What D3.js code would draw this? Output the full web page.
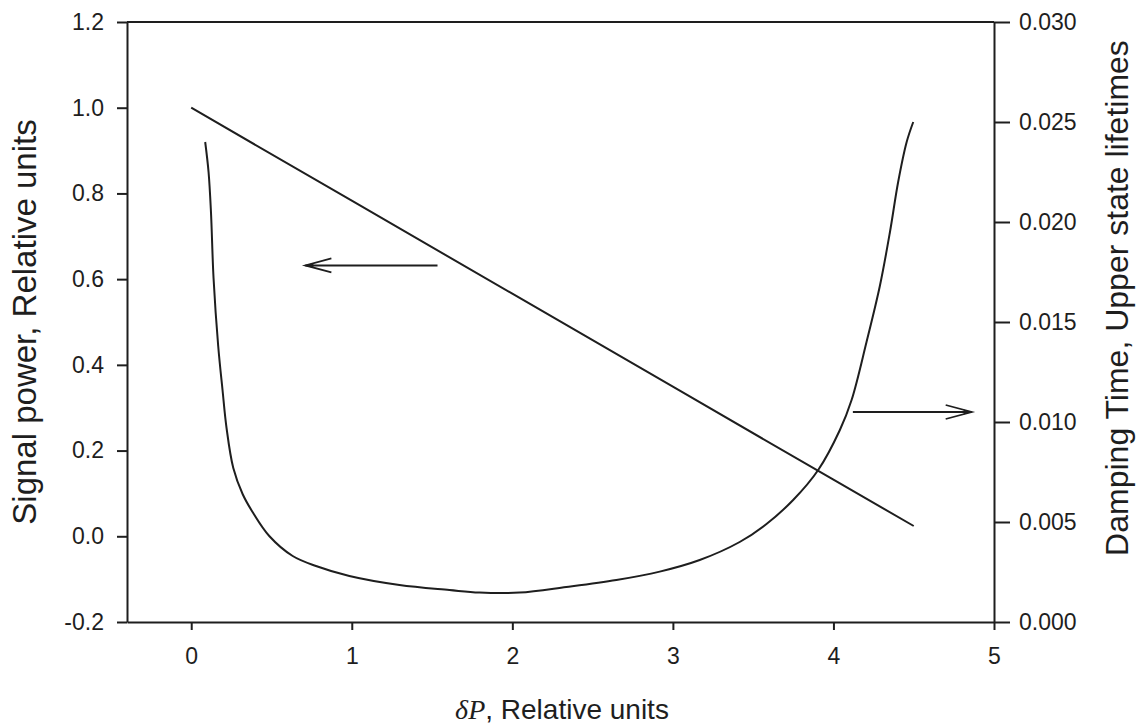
<!DOCTYPE html>
<html>
<head>
<meta charset="utf-8">
<script src="https://cdn.jsdelivr.net/npm/d3@7"></script>
<style>
  html, body { margin: 0; padding: 0; background: #fff; }
  svg { display: block; }
  text { font-family: "Liberation Sans", Arial, sans-serif; fill: #1e1e1e; }
</style>
</head>
<body>
<svg id="chart" width="1141" height="728"></svg>
<script>
// Pump offset (relative units)
const xTicks = [0, 1, 2, 3, 4, 5];
const leftTicks = [-0.2, 0.0, 0.2, 0.4, 0.6, 0.8, 1.0, 1.2];
const rightTicks = [0.000, 0.005, 0.010, 0.015, 0.020, 0.025, 0.030];

// Signal power (left axis)
const signalX = [0, 1, 2, 3, 4, 4.5];
const signalY = [1.0, 0.783, 0.566, 0.349, 0.132, 0.024];

// Damping time in upper-state lifetimes (right axis)
const dampX = [0.087, 0.108, 0.123, 0.139, 0.168, 0.195, 0.220, 0.262, 0.320, 0.382, 0.486,
               0.632, 0.777, 0.985, 1.297, 1.608, 1.796, 2.045, 2.336, 2.648, 2.918,
               3.167, 3.416, 3.583, 3.749, 3.905, 4.040, 4.113, 4.206, 4.289, 4.352,
               4.403, 4.456, 4.497];
const dampY = [0.0240, 0.0225, 0.0205, 0.0172, 0.0138, 0.0116, 0.0097, 0.0077, 0.0064, 0.0055, 0.0043,
               0.0033, 0.0028, 0.0023, 0.00185, 0.0016, 0.00147, 0.00147, 0.00175, 0.0021, 0.00252,
               0.0031, 0.0040, 0.0049, 0.0061, 0.0076, 0.0096, 0.0111, 0.0140, 0.0168, 0.0195,
               0.0220, 0.0240, 0.0250];

// Arrow annotations: which axis each curve belongs to
const leftArrow = { from: [1.534, 0.632], to: [0.711, 0.632] };
const rightArrow = { from: [4.121, 0.0105], to: [4.861, 0.0105] };

const svg = d3.select("#chart");
const ink = "#1e1e1e";

const x = d3.scaleLinear().domain([-0.4, 5]).range([127, 994]);
const yL = d3.scaleLinear().domain([-0.2, 1.2]).range([622, 22]);
const yR = d3.scaleLinear().domain([0, 0.03]).range([622, 22]);

function styleAxis(g) {
  g.selectAll("path, line").attr("stroke", ink).attr("stroke-width", 2);
  g.selectAll("text").attr("font-size", 23).attr("fill", ink)
    .style("font-family", "'Liberation Sans', Arial, sans-serif");
}

// Top frame line
svg.append("line")
  .attr("x1", x.range()[0]).attr("x2", x.range()[1])
  .attr("y1", yL.range()[1]).attr("y2", yL.range()[1])
  .attr("stroke", ink).attr("stroke-width", 2);

// Bottom axis
svg.append("g")
  .attr("transform", `translate(0,${yL.range()[0]})`)
  .call(d3.axisBottom(x).tickValues(xTicks).tickFormat(d3.format("d"))
    .tickSize(8).tickSizeOuter(0).tickPadding(18))
  .call(styleAxis);

// Left axis
svg.append("g")
  .attr("transform", `translate(${x.range()[0]},0)`)
  .call(d3.axisLeft(yL).tickValues(leftTicks).tickFormat(d => d.toFixed(1))
    .tickSize(10).tickSizeOuter(0).tickPadding(13))
  .call(styleAxis);

// Right axis
svg.append("g")
  .attr("transform", `translate(${x.range()[1]},0)`)
  .call(d3.axisRight(yR).tickValues(rightTicks).tickFormat(d => d.toFixed(3))
    .tickSize(16).tickSizeOuter(0).tickPadding(9))
  .call(styleAxis);

// Curves
const sigLine = d3.line().x(d => x(d[0])).y(d => yL(d[1]));
svg.append("path")
  .datum(d3.zip(signalX, signalY))
  .attr("d", sigLine)
  .attr("fill", "none").attr("stroke", ink).attr("stroke-width", 2);

const dampLine = d3.line().x(d => x(d[0])).y(d => yR(d[1])).curve(d3.curveCatmullRom.alpha(0.5));
svg.append("path")
  .datum(d3.zip(dampX, dampY))
  .attr("d", dampLine)
  .attr("fill", "none").attr("stroke", ink).attr("stroke-width", 2);

// Arrows
function arrow(a, yScale) {
  const x1 = x(a.from[0]), y1 = yScale(a.from[1]);
  const x2 = x(a.to[0]), y2 = yScale(a.to[1]);
  const dir = Math.sign(x2 - x1);
  const g = svg.append("g").attr("stroke", ink).attr("fill", "none");
  g.append("line").attr("x1", x1).attr("y1", y1).attr("x2", x2).attr("y2", y2)
    .attr("stroke-width", 2);
  g.append("path")
    .attr("d", `M${x2 - dir * 26},${y1 - 7} L${x2},${y2} L${x2 - dir * 26},${y1 + 7}`)
    .attr("stroke-width", 1.8);
  g.append("path")
    .attr("d", `M${x2},${y2} L${x2 - dir * 8},${y2 - 2.5} L${x2 - dir * 8},${y2 + 2.5} Z`)
    .attr("fill", ink).attr("stroke", "none");
}
arrow(leftArrow, yL);
arrow(rightArrow, yR);

// Axis titles
svg.append("text")
  .attr("transform", "translate(36,322) rotate(-90)")
  .attr("text-anchor", "middle").attr("font-size", 33)
  .text("Signal power, Relative units");

svg.append("text")
  .attr("transform", "translate(1128,298) rotate(-90)")
  .attr("text-anchor", "middle").attr("font-size", 32)
  .text("Damping Time, Upper state lifetimes");

const xt = svg.append("text")
  .attr("x", 562).attr("y", 719)
  .attr("text-anchor", "middle").attr("font-size", 28);
xt.append("tspan").attr("font-style", "italic").attr("font-family", "'Liberation Serif', serif").text("δP");
xt.append("tspan").text(", Relative units");
</script>
</body>
</html>
